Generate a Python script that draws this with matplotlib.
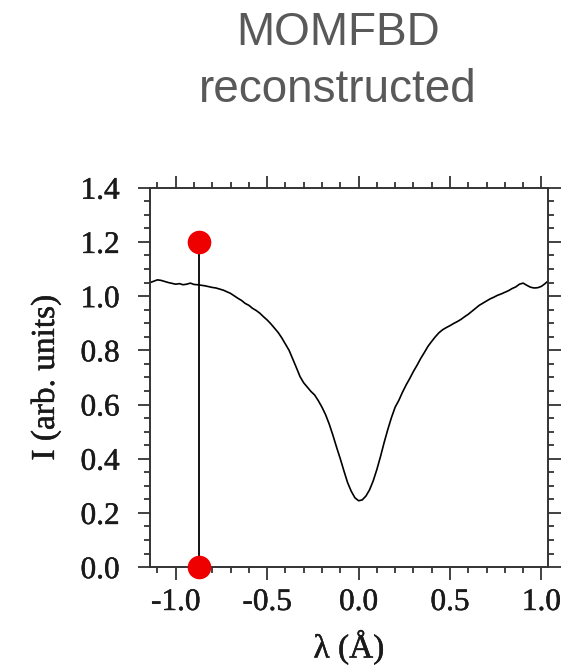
import matplotlib
matplotlib.use("Agg")
import matplotlib.pyplot as plt
import matplotlib.patheffects as pe
from matplotlib.ticker import MultipleLocator

# profile (wavelength offset in Angstrom, intensity)
wl = [-1.14, -1.12, -1.10, -1.08, -1.06, -1.04, -1.02, -1.00, -0.98, -0.96,
      -0.94, -0.92, -0.90, -0.88, -0.86, -0.84, -0.82, -0.80, -0.78, -0.76,
      -0.74, -0.72, -0.70, -0.68, -0.66, -0.64, -0.62, -0.60, -0.58, -0.56,
      -0.54, -0.52, -0.50, -0.48, -0.46, -0.44, -0.42, -0.40, -0.38, -0.36,
      -0.34, -0.32, -0.30, -0.28, -0.26, -0.24, -0.22, -0.20, -0.18, -0.16,
      -0.14, -0.12, -0.10, -0.08, -0.06, -0.04, -0.02, 0.00, 0.02, 0.04,
      0.06, 0.08, 0.10, 0.12, 0.14, 0.16, 0.18, 0.20, 0.22, 0.24,
      0.26, 0.28, 0.30, 0.32, 0.34, 0.36, 0.38, 0.40, 0.42, 0.44,
      0.46, 0.48, 0.50, 0.52, 0.54, 0.56, 0.58, 0.60, 0.62, 0.64,
      0.66, 0.68, 0.70, 0.72, 0.74, 0.76, 0.78, 0.80, 0.82, 0.84,
      0.86, 0.88, 0.90, 0.92, 0.94, 0.96, 0.98, 1.00, 1.02, 1.04]
intensity = [1.050, 1.055, 1.060, 1.058, 1.054, 1.050, 1.047, 1.044, 1.046, 1.042,
             1.044, 1.048, 1.043, 1.042, 1.040, 1.038, 1.035, 1.032, 1.030, 1.026,
             1.022, 1.016, 1.010, 1.001, 0.992, 0.984, 0.973, 0.966, 0.955, 0.947,
             0.937, 0.924, 0.912, 0.898, 0.882, 0.866, 0.846, 0.823, 0.800, 0.768,
             0.736, 0.703, 0.680, 0.664, 0.648, 0.635, 0.614, 0.590, 0.562, 0.527,
             0.486, 0.442, 0.400, 0.355, 0.312, 0.280, 0.256, 0.245, 0.248, 0.262,
             0.285, 0.318, 0.360, 0.408, 0.460, 0.508, 0.552, 0.590, 0.615, 0.645,
             0.672, 0.696, 0.722, 0.745, 0.770, 0.792, 0.815, 0.833, 0.850, 0.865,
             0.876, 0.884, 0.891, 0.899, 0.906, 0.914, 0.924, 0.933, 0.944, 0.955,
             0.966, 0.974, 0.982, 0.990, 0.996, 1.003, 1.008, 1.014, 1.020, 1.028,
             1.034, 1.044, 1.048, 1.040, 1.033, 1.030, 1.031, 1.036, 1.046, 1.058]

# marker position and its two ends
mark_wl = -0.875
mark_ends = [0.0, 1.2]

title_lines = ["MOMFBD", "reconstructed"]

serif = ["Liberation Serif", "DejaVu Serif"]
ink = "#1a1a1a"
# a thin outline so the serif text looks as heavy as in the scanned figure
heavy = [pe.withStroke(linewidth=0.35, foreground=ink)]

fig = plt.figure(figsize=(5.73, 6.68), dpi=100)
ax = fig.add_axes([0.262, 0.151, 0.694, 0.568])

ax.plot(wl, intensity, color="black", lw=1.2)
ax.plot([mark_wl, mark_wl], mark_ends, color="black", lw=1.3)
ax.plot([mark_wl, mark_wl], mark_ends, "o", color="#ee0000", ms=17,
        mec="none", clip_on=False, zorder=5)

ax.set_xlim(-1.14, 1.035)
ax.set_ylim(0, 1.4)
ax.xaxis.set_major_locator(MultipleLocator(0.5))
ax.xaxis.set_minor_locator(MultipleLocator(0.1))
ax.yaxis.set_major_locator(MultipleLocator(0.2))
ax.yaxis.set_minor_locator(MultipleLocator(0.05))
ax.xaxis.set_major_formatter(lambda v, p: f"{v:.1f}".replace("-0.0", "0.0"))
ax.yaxis.set_major_formatter(lambda v, p: f"{v:.1f}")

for s in ax.spines.values():
    s.set_linewidth(1.4)
    s.set_color("#333333")
ax.tick_params(which="both", direction="out", top=True, right=True,
               color="#333333", width=1.3)
ax.tick_params(which="major", length=9)
ax.tick_params(which="minor", length=4)
ax.tick_params(axis="y", which="major", pad=13)
ax.tick_params(axis="x", which="major", pad=6)

for lab in ax.get_xticklabels() + ax.get_yticklabels():
    lab.set_family(serif)
    lab.set_fontsize(22.5)
    lab.set_color(ink)
    lab.set_path_effects(heavy)

ax.set_xlabel("λ (Å)", family=serif, fontsize=24, color=ink, labelpad=9,
              path_effects=heavy)
ax.set_ylabel("I (arb. units)", family=serif, fontsize=24, color=ink, labelpad=14,
              path_effects=heavy)

fig.text(0.59, 0.951, title_lines[0], ha="center", va="center",
         family="Liberation Sans", fontsize=33, color="#595959")
fig.text(0.59, 0.866, title_lines[1], ha="center", va="center",
         family="Liberation Sans", fontsize=33, color="#595959")

fig.savefig("out.png", dpi=100)
